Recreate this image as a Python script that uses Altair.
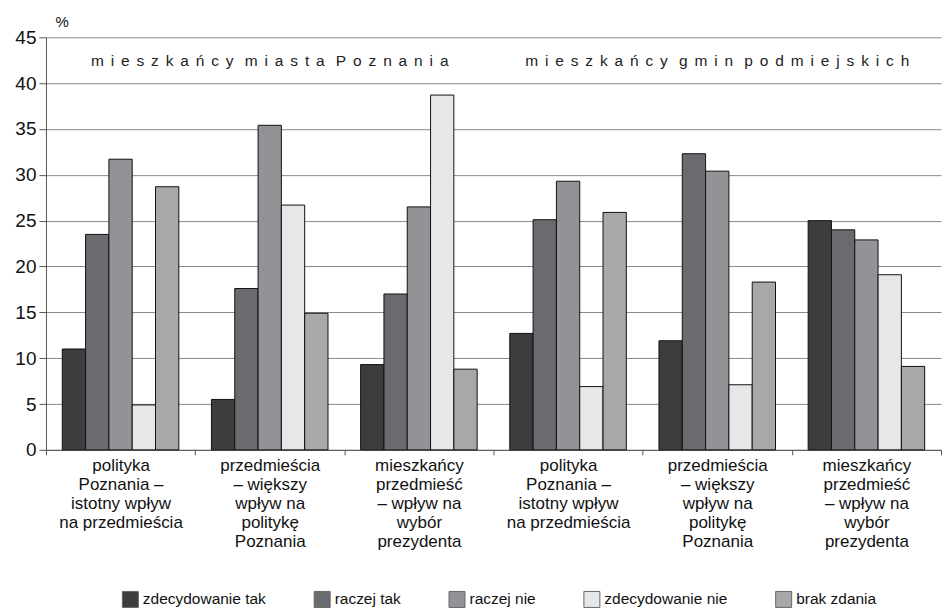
import altair as alt
import pandas as pd

groups = ["g1", "g2", "g3", "g4", "g5", "g6"]
group_labels = [
    ["polityka", "Poznania –", "istotny wpływ", "na przedmieścia"],
    ["przedmieścia", "– większy", "wpływ na", "politykę", "Poznania"],
    ["mieszkańcy", "przedmieść", "– wpływ na", "wybór", "prezydenta"],
    ["polityka", "Poznania –", "istotny wpływ", "na przedmieścia"],
    ["przedmieścia", "– większy", "wpływ na", "politykę", "Poznania"],
    ["mieszkańcy", "przedmieść", "– wpływ na", "wybór", "prezydenta"],
]
series = ["zdecydowanie tak", "raczej tak", "raczej nie", "zdecydowanie nie", "brak zdania"]
colors = ["#3d3d3d", "#6a6b6f", "#929397", "#e6e7e9", "#a7a8a8"]

zdecydowanie_tak = [11.0, 5.5, 9.3, 12.7, 11.9, 25.0]
raczej_tak = [23.5, 17.6, 17.0, 25.1, 32.3, 24.0]
raczej_nie = [31.7, 35.4, 26.5, 29.3, 30.4, 22.9]
zdecydowanie_nie = [4.9, 26.7, 38.7, 6.9, 7.1, 19.1]
brak_zdania = [28.7, 14.9, 8.8, 25.9, 18.3, 9.1]

annot_groups = ["g2", "g5"]
annot_texts = ["mieszkańcy miasta Poznania", "mieszkańcy gmin podmiejskich"]
annot_y = [42.4, 42.4]

all_values = [zdecydowanie_tak, raczej_tak, raczej_nie, zdecydowanie_nie, brak_zdania]
rows = []
for s, vals in zip(series, all_values):
    for g, v in zip(groups, vals):
        rows.append({"group": g, "series": s, "value": v})
df = pd.DataFrame(rows)

LETTER_SEP = "\u00a0\u2006"
WORD_SEP = "\u00a0\u00a0\u2006"
def spaced(t):
    return WORD_SEP.join(LETTER_SEP.join(list(w)) for w in t.split(" "))

df_ann = pd.DataFrame({"group": annot_groups, "y": annot_y,
                       "text": [spaced(t) for t in annot_texts]})

label_arr = "[" + ",".join("[" + ",".join("'" + l + "'" for l in ls) + "]" for ls in group_labels) + "]"
key_arr = "[" + ",".join("'" + g + "'" for g in groups) + "]"
label_expr = f"{label_arr}[indexof({key_arr}, datum.value)]"

FONT = "Liberation Sans"

x_enc = alt.X("group:N", sort=groups,
              scale=alt.Scale(paddingInner=0, paddingOuter=0),
              axis=alt.Axis(title=None, labelExpr=label_expr, labelAngle=0,
                            tickBand="extent", tickSize=5, tickColor="#555",
                            domainColor="#555", labelPadding=3,
                            labelFontSize=17, labelLineHeight=19,
                            labelColor="#111", labelFont=FONT,
                            labelBaseline="top"))

bars = alt.Chart(df).mark_bar(stroke="#111", strokeWidth=1).encode(
    x=x_enc,
    xOffset=alt.XOffset("series:N", sort=series,
                        scale=alt.Scale(paddingOuter=0.7, paddingInner=0)),
    y=alt.Y("value:Q", scale=alt.Scale(domain=[0, 45], nice=False),
            axis=alt.Axis(values=list(range(0, 50, 5)), title="%",
                          titleAngle=0, titleAlign="left", titleBaseline="bottom",
                          titleX=9, titleY=-8, titleFontSize=15,
                          titleFontWeight="normal", titleFont=FONT, titleColor="#111",
                          grid=True, gridColor="#8a8a8a", gridWidth=1,
                          tickSize=7, tickColor="#555", domainColor="#555",
                          labelFontSize=19, labelFont=FONT, labelColor="#111",
                          labelPadding=3)),
    color=alt.Color("series:N", sort=series,
                    scale=alt.Scale(domain=series, range=colors),
                    legend=alt.Legend(title=None, orient="none", legendX=76, legendY=554,
                                      direction="horizontal", symbolType="square",
                                      symbolSize=256, symbolStrokeColor="#666",
                                      symbolStrokeWidth=1, labelFontSize=15.5,
                                      labelFont=FONT, labelColor="#111",
                                      columnPadding=45, labelOffset=4)),
)

ann = alt.Chart(df_ann).mark_text(fontSize=15.5, font=FONT, color="#222",
                                  align="center", baseline="middle").encode(
    x=alt.X("group:N", sort=groups),
    y=alt.Y("y:Q"),
    text="text:N",
)

chart = alt.layer(bars, ann).properties(
    width=896, height=413,
    padding={"left": 6, "top": 6, "right": 0, "bottom": 0},
).configure_view(stroke=None).configure_axis(grid=False)

chart.save("out.html", embed_options={"renderer": "svg", "actions": False})
